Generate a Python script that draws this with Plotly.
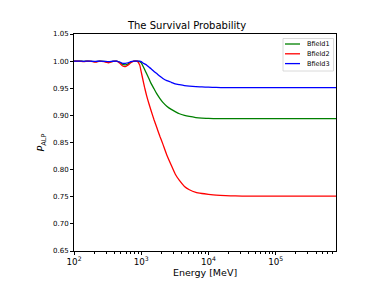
import plotly.graph_objects as go

energy_mev = [100, 120, 140, 160, 180, 210, 240, 280, 330, 380, 430, 480, 530, 580, 640, 700,
              780, 870, 950, 1000, 1050, 1120, 1200, 1300, 1400, 1550, 1700, 1900, 2100, 2400,
              2800, 3200, 3700, 4400, 5200, 6500, 8000, 10000, 13000, 18000, 25000, 40000,
              70000, 150000, 400000, 790000]

bfield1 = [1.000, 1.000, 0.9995, 1.000, 0.9997, 0.999, 1.000, 0.9995, 0.998, 0.9997, 1.000, 0.998,
           0.994, 0.993, 0.995, 0.998, 1.000, 1.000, 0.999, 0.997, 0.992, 0.985, 0.977, 0.968,
           0.959, 0.949, 0.940, 0.931, 0.924, 0.917, 0.911, 0.907, 0.903, 0.900, 0.898, 0.896,
           0.895, 0.8945, 0.894, 0.894, 0.894, 0.894, 0.894, 0.894, 0.894, 0.894]

bfield2 = [1.000, 1.000, 0.999, 1.000, 0.9995, 0.998, 1.000, 0.999, 0.997, 0.9995, 1.000, 0.996,
           0.991, 0.990, 0.993, 0.997, 1.000, 1.000, 0.993, 0.980, 0.968, 0.952, 0.937, 0.922,
           0.909, 0.892, 0.878, 0.861, 0.847, 0.827, 0.808, 0.792, 0.780, 0.769, 0.763, 0.758,
           0.756, 0.7545, 0.753, 0.752, 0.7515, 0.751, 0.751, 0.751, 0.751, 0.751]

bfield3 = [1.000, 1.000, 0.9997, 1.000, 0.9998, 0.9995, 1.000, 0.9997, 0.999, 0.9998, 1.000, 0.998,
           0.996, 0.996, 0.997, 0.999, 1.000, 1.000, 1.000, 0.999, 0.997, 0.995, 0.993, 0.989,
           0.986, 0.981, 0.977, 0.972, 0.968, 0.964, 0.961, 0.958, 0.9565, 0.955, 0.954, 0.953,
           0.9525, 0.952, 0.9515, 0.951, 0.951, 0.951, 0.951, 0.951, 0.951, 0.951]

series_names = ["Bfield1", "Bfield2", "Bfield3"]
series_values = [bfield1, bfield2, bfield3]
series_colors = ["green", "red", "blue"]

W, H = 374, 282
ML, MR, MT, MB = 74, 38, 34, 31
PW, PH = W - ML - MR, H - MT - MB


def px(xp):
    return (xp - ML) / PW


def py(yp):
    return (H - MB - yp) / PH


fig = go.Figure()
for name, vals, col in zip(series_names, series_values, series_colors):
    fig.add_trace(go.Scatter(x=energy_mev, y=vals, mode="lines", name=name, showlegend=False,
                             line=dict(color=col, width=1.3, shape="spline", smoothing=0.5)))

font = "DejaVu Sans"

# matplotlib-style legend box (top right, inside axes)
shapes = [dict(type="rect", xref="paper", yref="paper",
               x0=px(283), x1=px(333.5), y0=py(71), y1=py(38.5),
               line=dict(color="#d0d0d0", width=0.8), fillcolor="rgba(255,255,255,0.8)", layer="above")]
annotations = []
for i, (name, col) in enumerate(zip(series_names, series_colors)):
    yc = 44 + i * 9.8
    shapes.append(dict(type="line", xref="paper", yref="paper",
                       x0=px(285), x1=px(300), y0=py(yc), y1=py(yc),
                       line=dict(color=col, width=1.3), layer="above"))
    annotations.append(dict(text=name, xref="paper", yref="paper", x=px(305), y=py(yc),
                            xanchor="left", yanchor="middle", showarrow=False,
                            font=dict(size=6.5, family=font, color="black")))

fig.update_layout(
    width=W, height=H,
    margin=dict(l=ML, r=MR, t=MT, b=MB, autoexpand=False),
    paper_bgcolor="white", plot_bgcolor="white",
    font=dict(family=font, color="black", size=7),
    title=dict(text="The Survival Probability", x=0.5, xanchor="center",
               y=1 - 25 / H, yanchor="middle", font=dict(size=10, family=font)),
    showlegend=False,
    shapes=shapes, annotations=annotations,
)
fig.update_xaxes(type="log", range=[2, 5.8976], dtick=1, exponentformat="power",
                 showgrid=False, showline=True, linecolor="black", linewidth=1, mirror=True,
                 ticks="outside", ticklen=3, tickcolor="black", zeroline=False,
                 minor=dict(ticks="outside", ticklen=1.5, tickcolor="black", dtick="D1", showgrid=False),
                 title=dict(text="Energy [MeV]", font=dict(size=9.5, family=font), standoff=3))
fig.update_yaxes(range=[0.65, 1.05], dtick=0.05, tickformat=".2f",
                 showgrid=False, showline=True, linecolor="black", linewidth=1, mirror=True,
                 ticks="outside", ticklen=3, tickcolor="black", zeroline=False,
                 title=dict(text="<i>P</i><sub>ALP</sub>", font=dict(size=9.5, family=font), standoff=6))

fig.write_html("out.html", config={"displayModeBar": False},
               post_script="document.body.style.margin='0';")
